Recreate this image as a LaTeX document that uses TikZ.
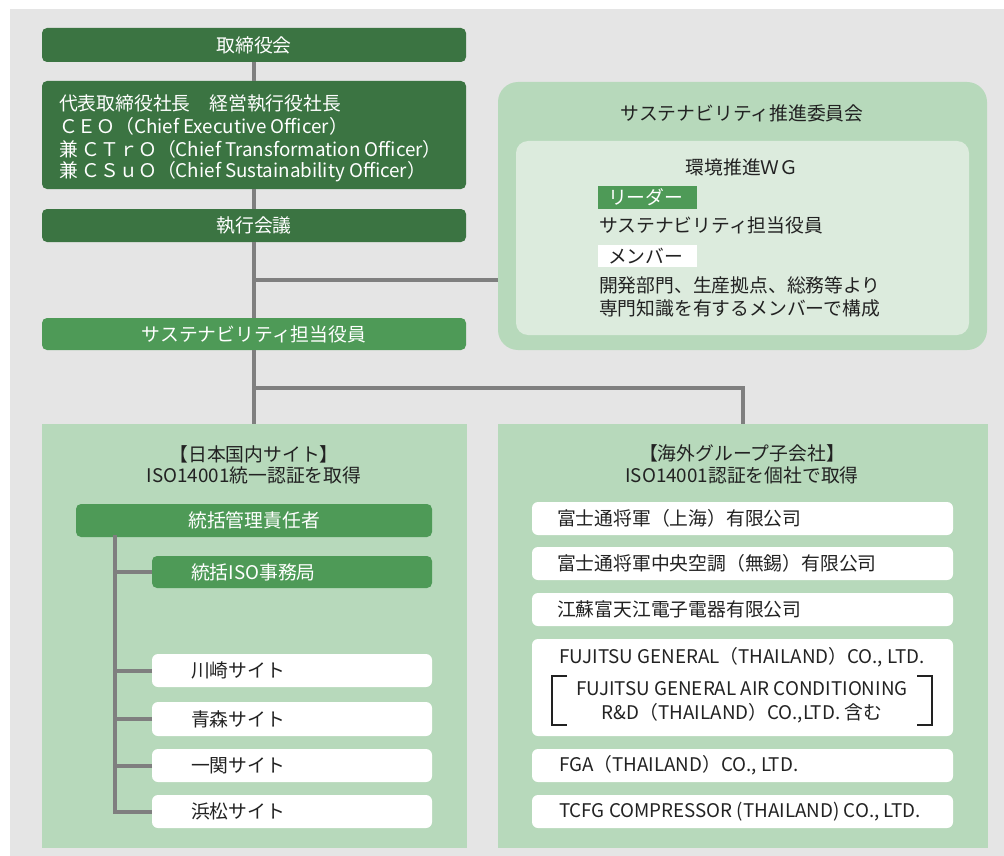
\documentclass[tikz,border=0pt]{standalone}
\usepackage{fontspec}
\setmainfont{Noto Sans CJK JP}
\definecolor{bggray}{HTML}{E5E5E5}
\definecolor{lgreen}{HTML}{B7D9BB}
\definecolor{pgreen}{HTML}{DCEBDD}
\definecolor{dgreen}{HTML}{3B7442}
\definecolor{mgreen}{HTML}{4E9A57}
\definecolor{lgray}{HTML}{7F7F7F}
\definecolor{tdark}{HTML}{222222}
\tikzset{
  base/.style={inner sep=0pt, outer sep=0pt, font=\fontsize{18.8}{22}\selectfont},
  darkbox/.style={base, fill=dgreen, rounded corners=5pt, text=white},
  midbox/.style={base, fill=mgreen, rounded corners=5pt, text=white},
  whitebox/.style={base, fill=white, rounded corners=6pt, text=tdark},
  region/.style={base, fill=lgreen},
  txt/.style={base, text=tdark},
  wtxt/.style={base, text=white},
  conn/.style={draw=lgray, line width=4pt},
  bracket/.style={draw=tdark, line width=1.3pt},
}
\begin{document}
\begin{tikzpicture}[x=1pt,y=-1pt]
\useasboundingbox (0,0) rectangle (1004,856);
\fill[bggray] (10,9) rectangle (1004,856);

% ---- top column
\node[darkbox, minimum width=424pt, minimum height=34pt] (board) at (254,45) {取締役会};
\node[darkbox, minimum width=424pt, minimum height=108pt] (ceo) at (254,135) {};
\node[wtxt, anchor=west] (ceo1) at (59,103) {代表取締役社長　経営執行役社長};
\node[wtxt, anchor=west] (ceo2) at (59,126) {ＣＥＯ（Chief Executive Officer）};
\node[wtxt, anchor=west] (ceo3) at (59,149) {兼 ＣＴｒＯ（Chief Transformation Officer）};
\node[wtxt, anchor=west] (ceo4) at (59,172) {兼 ＣＳｕＯ（Chief Sustainability Officer）};
\node[darkbox, minimum width=424pt, minimum height=33pt] (meeting) at (254,225.5) {執行会議};
\node[midbox, minimum width=424pt, minimum height=32pt] (officer) at (254,334) {サステナビリティ担当役員};

% ---- committee
\node[base, fill=lgreen, rounded corners=20pt, minimum width=489pt, minimum height=268pt] (comm) at (742.5,216) {};
\node[base, fill=pgreen, rounded corners=12pt, minimum width=453pt, minimum height=194pt] (wg) at (742.5,238) {};
\node[txt] (commt) at (742,113) {サステナビリティ推進委員会};
\node[txt] (wgt) at (742,167) {環境推進ＷＧ};
\node[base, fill=mgreen, minimum width=99pt, minimum height=23pt] (leader) at (647.5,197.5) {};
\node[wtxt, anchor=west] (leadert) at (608,197.5) {リーダー};
\node[txt, anchor=west] (leadern) at (599,225) {サステナビリティ担当役員};
\node[base, fill=white, minimum width=99pt, minimum height=22pt] (member) at (647.5,256) {};
\node[txt, anchor=west] (membert) at (608,256) {メンバー};
\node[txt, anchor=west] (mem1) at (599,285) {開発部門、生産拠点、総務等より};
\node[txt, anchor=west] (mem2) at (599,308) {専門知識を有するメンバーで構成};

% ---- regions
\node[region, minimum width=425pt, minimum height=424pt] (jp) at (254.5,636) {};
\node[region, minimum width=490pt, minimum height=424pt] (ov) at (743,636) {};

% ---- connectors top
\coordinate (j1) at (254,280);
\coordinate (j2) at (254,388);
\draw[conn] (board.south) -- (ceo.north);
\draw[conn] (ceo.south) -- (meeting.north);
\draw[conn] (meeting.south) -- (officer.north);
\draw[conn] (j1) -- (comm.west |- j1);
\draw[conn] (officer.south) -- (jp.north -| officer.south);
\draw[conn] (j2) -| (ov.north -| 743,0);

% ---- Japan region
\node[txt] (jpt1) at (254,454) {【日本国内サイト】};
\node[txt] (jpt2) at (254,475) {ISO14001統一認証を取得};
\node[midbox, minimum width=356pt, minimum height=33pt] (mgr) at (254,520.5) {統括管理責任者};
\node[midbox, minimum width=280pt, minimum height=32pt] (iso) at (292,572) {};
\node[wtxt, anchor=west] (isot) at (191,572) {統括ISO事務局};
\node[whitebox, minimum width=280pt, minimum height=33pt] (kawa) at (292,670.5) {};
\node[txt, anchor=west] at (191,670.5) {川崎サイト};
\node[whitebox, minimum width=280pt, minimum height=34pt] (aomori) at (292,719) {};
\node[txt, anchor=west] at (191,719) {青森サイト};
\node[whitebox, minimum width=280pt, minimum height=33pt] (ichi) at (292,765.5) {};
\node[txt, anchor=west] at (191,765.5) {一関サイト};
\node[whitebox, minimum width=280pt, minimum height=33pt] (hama) at (292,811.5) {};
\node[txt, anchor=west] at (191,811.5) {浜松サイト};
\coordinate (t0) at (115,535);
\draw[conn] (t0) |- (hama.west);
\draw[conn] (iso.west) -- (iso.west -| t0);
\draw[conn] (kawa.west) -- (kawa.west -| t0);
\draw[conn] (aomori.west) -- (aomori.west -| t0);
\draw[conn] (ichi.west) -- (ichi.west -| t0);

% ---- overseas region
\node[txt] (ovt1) at (742,453) {【海外グループ子会社】};
\node[txt] (ovt2) at (742,475) {ISO14001認証を個社で取得};
\node[whitebox, minimum width=421pt, minimum height=33pt] (c1) at (742.5,518.5) {};
\node[txt, anchor=west] at (557,518.5) {富士通将軍（上海）有限公司};
\node[whitebox, minimum width=421pt, minimum height=33pt] (c2) at (742.5,563.5) {};
\node[txt, anchor=west] at (557,563.5) {富士通将軍中央空調（無錫）有限公司};
\node[whitebox, minimum width=421pt, minimum height=33pt] (c3) at (742.5,609.5) {};
\node[txt, anchor=west] at (557,609.5) {江蘇富天江電子電器有限公司};
\node[whitebox, minimum width=421pt, minimum height=97pt] (c4) at (742.5,687.5) {};
\node[txt] at (742,657) {FUJITSU GENERAL（THAILAND）CO., LTD.};
\node[txt] at (742,689) {FUJITSU GENERAL AIR CONDITIONING};
\node[txt] at (742,713) {R\&D（THAILAND）CO.,LTD. 含む};
\draw[bracket] (567,676) -- (552,676) -- (552,725) -- (567,725);
\draw[bracket] (917,676) -- (932,676) -- (932,725) -- (917,725);
\node[whitebox, minimum width=421pt, minimum height=33pt] (c5) at (742.5,765.5) {};
\node[txt, anchor=west] at (559,765.5) {FGA（THAILAND）CO., LTD.};
\node[whitebox, minimum width=421pt, minimum height=33pt] (c6) at (742.5,811.5) {};
\node[txt, anchor=west] at (559,811.5) {TCFG COMPRESSOR (THAILAND) CO., LTD.};
\end{tikzpicture}
\end{document}
